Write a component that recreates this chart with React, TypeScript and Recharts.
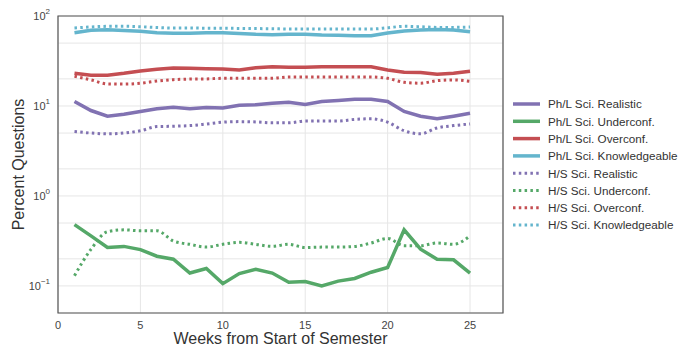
import React from 'react'
import { LineChart, Line, XAxis, YAxis, CartesianGrid, ReferenceArea } from 'recharts'

// weekly share of questions per confidence class, two course groups
const WEEKS = [1, 2, 3, 4, 5, 6, 7, 8, 9, 10, 11, 12, 13, 14, 15, 16, 17, 18, 19, 20, 21, 22, 23, 24, 25]
const PHL_REALISTIC = [11.2, 8.9, 7.7, 8.1, 8.7, 9.3, 9.7, 9.3, 9.6, 9.5, 10.2, 10.3, 10.7, 11.0, 10.4, 11.2, 11.5, 11.9, 11.9, 11.2, 8.7, 7.7, 7.2, 7.7, 8.3]
const PHL_UNDERCONF = [0.48, 0.36, 0.267, 0.275, 0.253, 0.214, 0.198, 0.139, 0.156, 0.106, 0.137, 0.153, 0.139, 0.11, 0.112, 0.1, 0.113, 0.121, 0.142, 0.16, 0.42, 0.256, 0.198, 0.195, 0.139]
const PHL_OVERCONF = [23.1, 21.9, 22.0, 23.1, 24.5, 25.6, 26.4, 26.2, 25.9, 25.7, 25.1, 26.6, 27.3, 26.9, 27.0, 27.3, 27.3, 27.3, 27.3, 25.1, 23.7, 23.5, 22.5, 23.1, 24.3]
const PHL_KNOWLEDGEABLE = [65.2, 69.4, 70.4, 69, 67.6, 65, 64.3, 64.5, 65, 65, 64, 62.5, 61.9, 62.6, 62.6, 61.5, 61, 60.4, 60.4, 64.8, 68, 70, 71, 70, 67]
const HS_REALISTIC = [5.2, 5.0, 4.9, 5.0, 5.3, 5.9, 5.95, 6.05, 6.3, 6.6, 6.7, 6.65, 6.5, 6.5, 6.8, 6.8, 6.8, 7.1, 7.2, 6.6, 5.3, 4.9, 5.7, 6.05, 6.3]
const HS_UNDERCONF = [0.13, 0.255, 0.4, 0.42, 0.41, 0.41, 0.316, 0.29, 0.27, 0.29, 0.305, 0.29, 0.275, 0.29, 0.267, 0.27, 0.27, 0.275, 0.3, 0.337, 0.28, 0.28, 0.3, 0.29, 0.36]
const HS_OVERCONF = [21.4, 19.5, 17.6, 17.5, 17.9, 18.9, 19.6, 19.9, 20, 20.3, 20.3, 20.3, 20.3, 21, 21, 21, 21, 21, 21, 20.3, 18.3, 17.9, 19.1, 19.5, 18.8]
const HS_KNOWLEDGEABLE = [73.6, 75.5, 76.8, 76.8, 76, 74.5, 73.6, 73.6, 73.2, 73, 72.8, 72.5, 72.2, 71.7, 71.7, 71.7, 71.7, 71.7, 71.7, 74, 76.8, 76, 74.7, 74.7, 75.5]

const X_TICKS = [0, 5, 10, 15, 20, 25]
const Y_TICKS = [
  0.05, 0.06, 0.07, 0.08, 0.09,
  0.1, 0.2, 0.3, 0.4, 0.5, 0.6, 0.7, 0.8, 0.9,
  1, 2, 3, 4, 5, 6, 7, 8, 9,
  10, 20, 30, 40, 50, 60, 70, 80, 90,
  100,
]
const Y_EXPONENTS: Record<string, string> = { '0.1': '\u22121', '1': '0', '10': '1', '100': '2' }

const PURPLE = '#8172B2'
const GREEN = '#55A868'
const RED = '#C44E52'
const CYAN = '#64B5CD'
const FONT = '"Liberation Sans", Arial, sans-serif'
const DOTS = '2.5 3.3'

const SERIES = [
  { key: 'phlRealistic', name: 'Ph/L Sci. Realistic', color: PURPLE, dotted: false, values: PHL_REALISTIC },
  { key: 'phlUnderconf', name: 'Ph/L Sci. Underconf.', color: GREEN, dotted: false, values: PHL_UNDERCONF },
  { key: 'phlOverconf', name: 'Ph/L Sci. Overconf.', color: RED, dotted: false, values: PHL_OVERCONF },
  { key: 'phlKnowledgeable', name: 'Ph/L Sci. Knowledgeable', color: CYAN, dotted: false, values: PHL_KNOWLEDGEABLE },
  { key: 'hsRealistic', name: 'H/S Sci. Realistic', color: PURPLE, dotted: true, values: HS_REALISTIC },
  { key: 'hsUnderconf', name: 'H/S Sci. Underconf.', color: GREEN, dotted: true, values: HS_UNDERCONF },
  { key: 'hsOverconf', name: 'H/S Sci. Overconf.', color: RED, dotted: true, values: HS_OVERCONF },
  { key: 'hsKnowledgeable', name: 'H/S Sci. Knowledgeable', color: CYAN, dotted: true, values: HS_KNOWLEDGEABLE },
]

const data = WEEKS.map((week, i) => {
  const row: Record<string, number> = { week }
  SERIES.forEach(s => { row[s.key] = s.values[i] })
  return row
})

// 10^n labels, only on the decades
const LogTick = ({ x, y, payload }: any) => {
  const exp = Y_EXPONENTS[String(payload.value)]
  if (exp === undefined) return null
  return (
    <text x={x} y={y + 4} textAnchor="end" fontSize={11} fill="#444" fontFamily={FONT}>
      <tspan>10</tspan>
      <tspan dy={-6} fontSize={8}>{exp}</tspan>
    </text>
  )
}

const YTitle = ({ viewBox }: any) => {
  const cx = viewBox.x + 16
  const cy = viewBox.y + viewBox.height / 2
  return (
    <text x={cx} y={cy} transform={`rotate(-90 ${cx} ${cy})`} textAnchor="middle" fontSize={16} fill="#333" fontFamily={FONT}>
      Percent Questions
    </text>
  )
}

const XTitle = ({ viewBox }: any) => (
  <text x={viewBox.x + viewBox.width / 2} y={viewBox.y + 31} textAnchor="middle" fontSize={16} fill="#333" fontFamily={FONT}>
    Weeks from Start of Semester
  </text>
)

function ChartLegend() {
  return (
    <svg width={176} height={150} style={{ position: 'absolute', left: 505, top: 95 }}>
      {SERIES.map((s, i) => {
        const cy = 9 + i * 17.3
        return (
          <g key={s.key}>
            <line x1={8} x2={35} y1={cy} y2={cy} stroke={s.color} strokeWidth={s.dotted ? 3 : 3.5} strokeDasharray={s.dotted ? DOTS : undefined} />
            <text x={43} y={cy + 4.3} fontSize={11.7} fill="#333" fontFamily={FONT}>{s.name}</text>
          </g>
        )
      })}
    </svg>
  )
}

export default function App() {
  return (
    <div style={{ position: 'absolute', left: 0, top: 0, width: 681, height: 346, background: '#fff' }}>
      <LineChart width={681} height={346} data={data} margin={{ top: 16, right: 178, left: 8, bottom: 0 }}>
        <CartesianGrid stroke="#e6e6e6" strokeWidth={1} />
        <XAxis
          dataKey="week"
          type="number"
          domain={[0, 27]}
          ticks={X_TICKS}
          height={33}
          tickLine={false}
          axisLine={false}
          tick={{ fontSize: 11, fill: '#444', fontFamily: FONT }}
          label={{ content: XTitle }}
        />
        <YAxis
          scale="log"
          domain={[0.05, 100]}
          ticks={Y_TICKS}
          allowDataOverflow
          width={50}
          tickLine={false}
          axisLine={false}
          tick={LogTick}
          label={{ content: YTitle }}
        />
        {SERIES.map(s => (
          <Line
            key={s.key}
            dataKey={s.key}
            name={s.name}
            type={s.dotted ? 'monotone' : 'linear'}
            stroke={s.color}
            strokeWidth={s.dotted ? 3 : 3.5}
            strokeDasharray={s.dotted ? DOTS : undefined}
            dot={false}
            isAnimationActive={false}
          />
        ))}
        <ReferenceArea x1={0} x2={27} y1={0.05} y2={100} fill="none" stroke="#555" strokeWidth={1.2} />
      </LineChart>
      <ChartLegend />
    </div>
  )
}
